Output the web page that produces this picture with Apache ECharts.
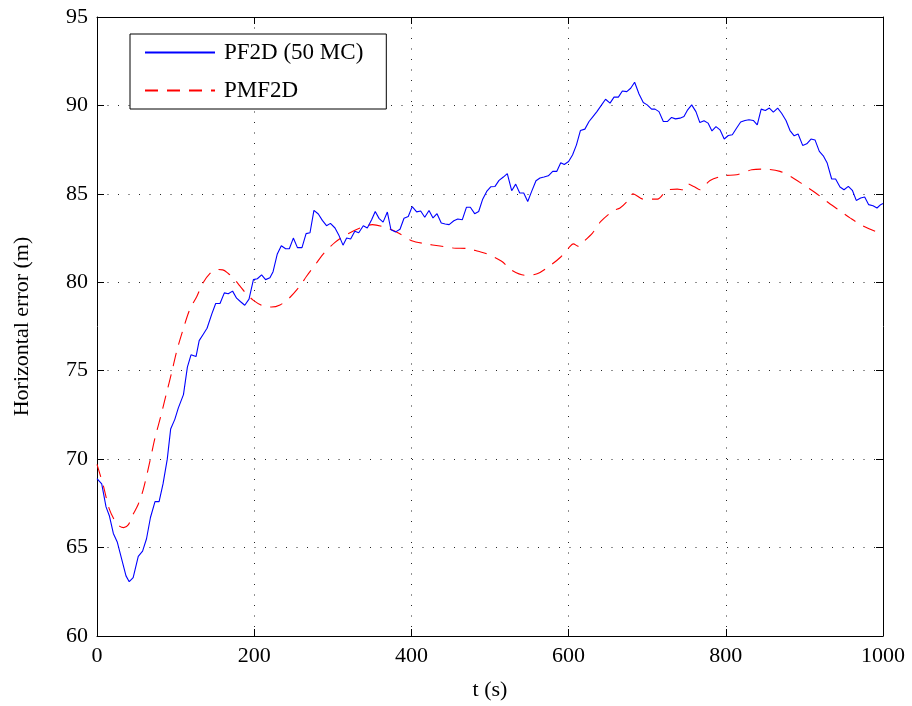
<!DOCTYPE html>
<html>
<head>
<meta charset="utf-8">
<script src="https://cdn.jsdelivr.net/npm/echarts@6/dist/echarts.min.js"></script>
<style>
html,body{margin:0;padding:0;background:#fff;}
#chart{width:912px;height:706px;}
</style>
</head>
<body>
<div id="chart"></div>
<script>
// ---- data ----
const seriesNames = ['PF2D (50 MC)', 'PMF2D'];
const xTicks = [0, 200, 400, 600, 800, 1000];
const yTicks = [60, 65, 70, 75, 80, 85, 90, 95];

const pfT = [0,6,11.5,15.7,20.8,25.9,31.4,36.9,41,46,52.5,58,63,68,73.8,79,84,89.4,93.7,99,103.5,110,115,119.6,126,130,135,140,146,151,156.5,162,167,172.5,177.6,182.7,188,193.4,199,204,209.4,214.5,220,224,229.4,234.5,240,244.7,249.8,255,260.8,266,271,276,281.6,286.7,292,297,302.8,307.9,313,317.6,322.7,328,333,338.8,343.9,349.4,354,359,364,369.4,374,380,385.5,390.6,396,401,406.7,411.8,417,422.4,427.5,432.6,438,443,448,454,459,464.8,470,475,480.5,485.6,490.7,495.8,500.9,506.4,511.5,517,522,527.6,532.7,537.8,542.9,548,553,558.5,563.6,568.7,574.2,579.8,584.9,590,594.5,600,605,610,615,620.7,626,631,636,642,647,652.7,657.8,663.3,668.4,674,679,684,689.6,695,700,705.6,710,715,720.5,725.6,731,736,741.7,746.8,751.5,756.6,762,767,772.3,777.4,782.4,787.5,792.6,798,803.2,808.3,813.8,818.9,824.4,829.5,835,840,845,850.3,855.4,860.5,866,871,876.6,881.7,887,892,897.8,903,908.4,913.5,919,924,929,934.7,939.7,945.3,950.4,955.9,961,966,971.6,976.7,981.8,987.3,992.4,997,1000];
const pfE = [68.9,68.6,67.3,66.8,65.8,65.3,64.35,63.4,63.07,63.3,64.5,64.8,65.5,66.7,67.6,67.6,68.6,70.0,71.7,72.25,72.9,73.65,75.2,75.9,75.8,76.7,77.05,77.4,78.2,78.8,78.8,79.4,79.35,79.5,79.1,78.9,78.7,79.05,80.15,80.2,80.42,80.15,80.25,80.6,81.6,82.07,81.9,81.9,82.5,81.96,81.96,82.75,82.8,84.07,83.86,83.5,83.2,83.33,83.07,82.64,82.1,82.5,82.45,82.88,82.8,83.2,83.07,83.54,84.0,83.6,83.4,83.97,82.97,82.85,83.0,83.62,83.72,84.28,83.98,84.03,83.68,84.06,83.64,83.88,83.35,83.3,83.26,83.48,83.58,83.54,84.24,84.24,83.88,84.0,84.7,85.14,85.4,85.42,85.76,85.95,86.14,85.18,85.55,85.05,85.05,84.57,85.14,85.74,85.9,85.95,86.02,86.27,86.27,86.76,86.66,86.83,87.2,87.77,88.58,88.66,89.09,89.37,89.65,90.03,90.35,90.13,90.47,90.47,90.82,90.78,90.97,91.31,90.65,90.16,90.03,89.79,89.79,89.65,89.09,89.09,89.32,89.24,89.28,89.37,89.75,90.03,89.65,89.03,89.13,89.0,88.56,88.8,88.62,88.1,88.3,88.34,88.72,89.06,89.15,89.19,89.15,88.9,89.79,89.71,89.85,89.62,89.85,89.56,89.15,88.58,88.28,88.38,87.74,87.83,88.1,88.05,87.4,87.15,86.74,85.84,85.84,85.39,85.23,85.42,85.2,84.63,84.77,84.82,84.39,84.33,84.2,84.39,84.45];

const pmfT = [0,8,15.7,23,29,34,40,45,52.5,59,67.4,73.8,81,88.6,95,102,110,118,127,135,143.8,152,160,167,173.4,182,190,199,211.6,222,232.8,244,258,266.6,278.6,288.8,302.8,315.5,334.6,350.3,368.6,383.4,400.4,417.3,436.4,453.3,472.4,485,496.6,514.8,527.6,544.5,560,576.3,590,601.8,606,612.5,616.7,630.6,641,657,665.4,675,682,695,713,725,738.3,745,751,760,767,780,797,813.8,833,849,869,883.6,898.6,913.5,928.4,943.3,958,972.9,990,1000];
const pmfE = [69.7,68.5,67.17,66.5,66.2,66.13,66.3,66.8,67.45,68.3,69.9,71.2,72.4,73.76,74.9,76.2,77.4,78.46,79.2,79.97,80.5,80.72,80.7,80.5,80.25,79.78,79.35,78.98,78.65,78.6,78.72,79.08,79.78,80.34,81.05,81.65,82.26,82.65,83.07,83.26,83.07,82.79,82.35,82.18,82.05,81.94,81.9,81.75,81.6,81.19,80.68,80.4,80.48,80.94,81.43,82.03,82.17,82.03,82.2,82.8,83.44,84.05,84.2,84.6,85.0,84.7,84.7,85.2,85.27,85.23,85.57,85.4,85.23,85.76,86.02,86.08,86.36,86.4,86.27,85.95,85.52,85.08,84.57,84.1,83.64,83.22,82.88,82.75];

const pfData = pfT.map((t, i) => [t, pfE[i]]);
const pmfData = pmfT.map((t, i) => [t, pmfE[i]]);

const FONT = '"Liberation Serif", "DejaVu Serif", serif';
const chart = echarts.init(document.getElementById('chart'), null, {renderer: 'canvas'});

const gridLine = {show: true, lineStyle: {color: '#000', width: 1, type: [1, 9.5], opacity: 0.85}};
const tick = {show: true, inside: true, length: 7, lineStyle: {color: '#000', width: 1}};
const axLine = {show: true, onZero: false, lineStyle: {color: '#000', width: 1}};

chart.setOption({
  animation: false,
  backgroundColor: '#fff',
  grid: {left: 97, right: 29, top: 17, bottom: 69, show: false},
  legend: {
    show: true,
    left: 130, top: 34, orient: 'vertical',
    backgroundColor: '#fff', borderColor: '#000', borderWidth: 1,
    padding: [7, 23, 7, 14], itemGap: 15, itemWidth: 70, itemHeight: 22,
    itemStyle: {opacity: 0, borderWidth: 0},
    textStyle: {fontFamily: FONT, fontSize: 23, color: '#000', padding: [0, 0, 0, 4]},
    data: seriesNames
  },
  xAxis: [{
    type: 'value', min: xTicks[0], max: xTicks[xTicks.length - 1], interval: 200,
    name: 't (s)', nameLocation: 'middle', nameGap: 43,
    nameTextStyle: {fontFamily: FONT, fontSize: 22, color: '#000'},
    axisLine: axLine, axisTick: tick,
    axisLabel: {fontFamily: FONT, fontSize: 22, color: '#000', margin: 9, formatter: v => String(v)},
    splitLine: gridLine
  }, {
    type: 'value', position: 'top', min: xTicks[0], max: xTicks[xTicks.length - 1], interval: 200,
    axisLine: axLine, axisTick: tick,
    axisLabel: {show: false}, splitLine: {show: false}
  }],
  yAxis: [{
    type: 'value', min: yTicks[0], max: yTicks[yTicks.length - 1], interval: 5,
    name: 'Horizontal error (m)', nameLocation: 'middle', nameGap: 64, nameRotate: 90,
    nameTextStyle: {fontFamily: FONT, fontSize: 22, color: '#000'},
    axisLine: axLine, axisTick: tick,
    axisLabel: {fontFamily: FONT, fontSize: 22, color: '#000', margin: 9, formatter: v => String(v)},
    splitLine: gridLine
  }, {
    type: 'value', position: 'right', min: yTicks[0], max: yTicks[yTicks.length - 1], interval: 5,
    axisLine: axLine, axisTick: tick,
    axisLabel: {show: false}, splitLine: {show: false}
  }],
  series: [{
    name: seriesNames[0], type: 'line', data: pfData, showSymbol: false, symbol: 'none',
    lineStyle: {color: '#0000ff', width: 1.1}, itemStyle: {color: '#0000ff'}, z: 3
  }, {
    name: seriesNames[1], type: 'line', data: pmfData, showSymbol: false, symbol: 'none', smooth: 0.3,
    lineStyle: {color: '#ff0000', width: 1.1, type: [13, 9]}, itemStyle: {color: '#ff0000'}, z: 2
  }]
});
</script>
</body>
</html>
